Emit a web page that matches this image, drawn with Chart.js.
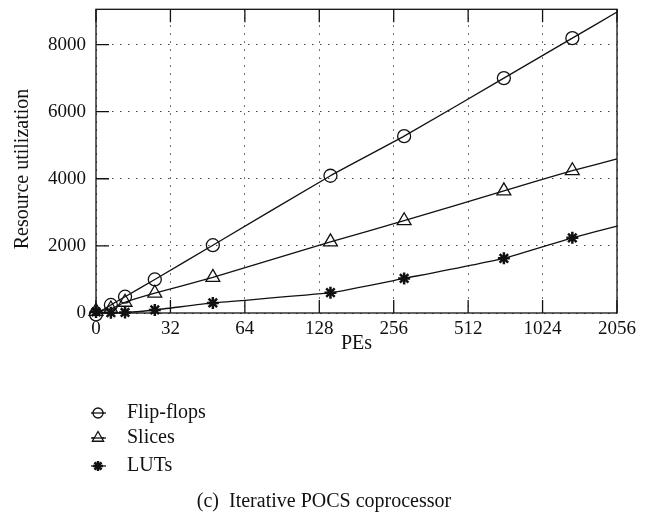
<!DOCTYPE html>
<html>
<head>
<meta charset="utf-8">
<script src="https://cdn.jsdelivr.net/npm/chart.js@4/dist/chart.umd.min.js"></script>
<style>
  html, body { margin: 0; padding: 0; background: #fff; }
  #wrap { width: 658px; height: 514px; position: relative; }
</style>
</head>
<body>
<div id="wrap"><canvas id="chart" width="658" height="514"></canvas></div>
<script>
/* x positions are in tick-slot units: 0 = "0", 1 = "32", ... 7 = "2056" */
const xTickLabels = ["0", "32", "64", "128", "256", "512", "1024", "2056"];
const yTicks = [0, 2000, 4000, 6000, 8000];
const peSlots = [0, 0.2, 0.39, 0.79, 1.57, 3.15, 4.14, 5.48, 6.40, 7];

const flipFlops = [-40, 240, 485, 1000, 2020, 4090, 5270, 7000, 8190, 8970];
const slices    = [50, 120, 320, 590, 1060, 2120, 2750, 3640, 4240, 4590];
const luts      = [30, 10, 15, 90, 300, 605, 1030, 1630, 2240, 2590];

const seriesNames = ["Flip-flops", "Slices", "LUTs"];
const FONT = "Liberation Serif";
const INK = "#111";

const toPts = vals => vals.map((v, i) => ({ x: peSlots[i], y: v }));

function series(label, vals, style, r, bw) {
  return {
    label,
    data: toPts(vals),
    borderColor: INK,
    borderWidth: 1.3,
    pointStyle: style,
    pointBorderColor: INK,
    pointBackgroundColor: style === "star" ? INK : "rgba(255,255,255,0)",
    pointBorderWidth: bw,
    pointRadius: ctx => ctx.dataIndex === vals.length - 1 ? 0 : r,
    legendRadius: style === "triangle" ? 6.5 : 5,
    tension: 0.15,
    clip: false
  };
}

/* frame, inward ticks, axis titles, legend and caption */
const decor = {
  id: "decor",
  beforeDatasetsDraw(chart) {
    const { ctx, chartArea: a, scales: { x, y } } = chart;
    ctx.save();
    ctx.strokeStyle = INK;
    ctx.lineWidth = 1.3;
    ctx.strokeRect(a.left, a.top, a.right - a.left, a.bottom - a.top);
    ctx.beginPath();
    xTickLabels.forEach((_, i) => {
      const px = x.getPixelForValue(i);
      ctx.moveTo(px, a.bottom); ctx.lineTo(px, a.bottom - 13);
      ctx.moveTo(px, a.top); ctx.lineTo(px, a.top + 13);
    });
    yTicks.forEach(v => {
      const py = y.getPixelForValue(v);
      ctx.moveTo(a.left, py); ctx.lineTo(a.left + 13, py);
    });
    ctx.stroke();
    ctx.restore();
  },
  afterDraw(chart) {
    const { ctx, chartArea: a } = chart;
    ctx.save();
    ctx.fillStyle = INK;
    ctx.font = `20px "${FONT}"`;
    ctx.textBaseline = "middle";

    // axis titles
    ctx.textAlign = "center";
    ctx.fillText("PEs", (a.left + a.right) / 2, 344);
    ctx.save();
    ctx.translate(23, 169);
    ctx.rotate(-Math.PI / 2);
    ctx.fillText("Resource utilization", 0, 0);
    ctx.restore();

    // legend
    const rows = [413, 438, 466];
    chart.data.datasets.forEach((ds, i) => {
      const yy = rows[i];
      ctx.strokeStyle = INK;
      ctx.lineWidth = 1.3;
      ctx.beginPath();
      ctx.moveTo(91, yy); ctx.lineTo(106, yy);
      ctx.stroke();
      ctx.fillStyle = ds.pointStyle === "star" ? INK : "#fff";
      ctx.lineWidth = ds.pointBorderWidth;
      Chart.helpers.drawPoint(ctx, {
        pointStyle: ds.pointStyle,
        radius: ds.legendRadius,
        borderWidth: ds.pointBorderWidth,
        rotation: 0
      }, 98, yy);
      if (ds.pointStyle !== "star") {
        ctx.lineWidth = 1.3;
        ctx.beginPath();
        ctx.moveTo(92, yy); ctx.lineTo(104, yy);
        ctx.stroke();
      }
      ctx.fillStyle = INK;
      ctx.textAlign = "left";
      ctx.fillText(seriesNames[i], 127, yy);
    });

    // caption
    ctx.textAlign = "center";
    ctx.fillText("(c)  Iterative POCS coprocessor", 324, 502);
    ctx.restore();
  }
};

new Chart(document.getElementById("chart"), {
  type: "line",
  data: {
    datasets: [
      series(seriesNames[0], flipFlops, "circle", 6.5, 1.3),
      series(seriesNames[1], slices, "triangle", 8, 1.3),
      series(seriesNames[2], luts, "star", 6, 2.5)
    ]
  },
  options: {
    responsive: false,
    animation: false,
    layout: { padding: { top: 9, right: 41, left: 0, bottom: 0 } },
    plugins: { legend: { display: false }, tooltip: { enabled: false } },
    scales: {
      x: {
        type: "linear",
        min: 0,
        max: 7,
        afterFit: s => { s.height = 201; s.paddingLeft = 0; s.paddingRight = 0; },
        afterBuildTicks: s => { s.ticks = xTickLabels.map((_, i) => ({ value: i })); },
        ticks: {
          padding: 5,
          color: INK,
          font: { family: FONT, size: 19 },
          callback: v => xTickLabels[v]
        },
        grid: { color: "#444", lineWidth: 1, drawTicks: false },
        border: { display: false, dash: [1.5, 6.5] }
      },
      y: {
        min: 0,
        max: 9050,
        afterFit: s => { s.width = 96; s.paddingTop = 0; s.paddingBottom = 0; },
        afterBuildTicks: s => { s.ticks = yTicks.map(v => ({ value: v })); },
        ticks: {
          padding: 10,
          color: INK,
          font: { family: FONT, size: 19 },
          callback: v => String(v)
        },
        grid: { color: "#444", lineWidth: 1, drawTicks: false },
        border: { display: false, dash: [1.5, 6.5] }
      }
    }
  },
  plugins: [decor]
});
</script>
</body>
</html>
